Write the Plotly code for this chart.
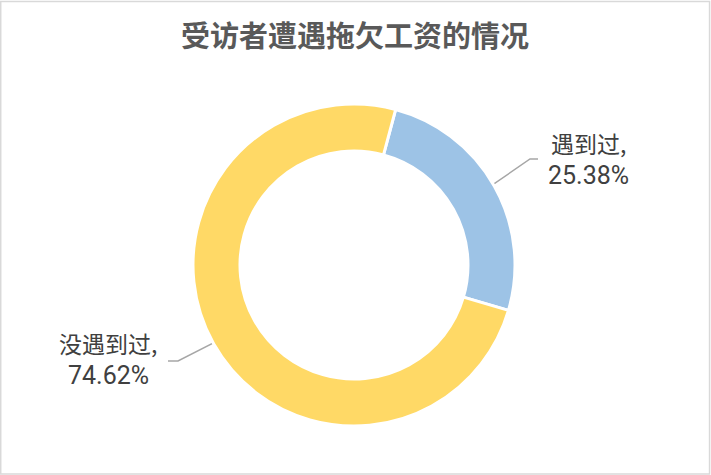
import math
import plotly.graph_objects as go

# ---- data ----
categories = ["遇到过", "没遇到过"]
values = [25.38, 74.62]
colors = ["#9DC3E6", "#FFD966"]
title_text = "受访者遭遇拖欠工资的情况"

# ---- layout constants (pixels) ----
W, H = 711, 475
cx, cy = 354, 265
r_out, r_in = 161, 114
rotation = 15
# leader-line elbow / end points and label centres
elbows = [(530, 159), (178, 361)]
ends = [(538, 159), (168, 361)]
label_pos = [(588, 143), (108, 343)]
line_gap = 32

fig = go.Figure()

fig.add_trace(go.Pie(
    labels=categories,
    values=values,
    sort=False,
    direction="clockwise",
    rotation=rotation,
    hole=r_in / r_out,
    marker=dict(colors=colors, line=dict(color="white", width=3)),
    textinfo="none",
    hoverinfo="none",
    showlegend=False,
    domain=dict(x=[(cx - r_out) / W, (cx + r_out) / W],
                y=[(H - cy - r_out) / H, (H - cy + r_out) / H]),
))

total = sum(values)
cum = 0.0
r_mid = (r_in + r_out) / 2
fonts = [dict(family="Noto Sans CJK SC", size=23, color="#404040"),
         dict(family="Roboto", size=25, color="#404040")]
for i, (cat, v) in enumerate(zip(categories, values)):
    mid = rotation + (cum + v / 2) / total * 360
    cum += v
    a = math.radians(mid)
    px = cx + r_mid * math.sin(a)
    py = cy - r_mid * math.cos(a)
    fig.add_trace(go.Scatter(
        x=[px, elbows[i][0], ends[i][0]],
        y=[py, elbows[i][1], ends[i][1]],
        mode="lines",
        line=dict(color="#A6A6A6", width=1.5),
        hoverinfo="skip",
        showlegend=False,
    ))
    for j, txt in enumerate([f"{cat},", f"{v:.2f}%"]):
        fig.add_annotation(
            x=label_pos[i][0], y=label_pos[i][1] + j * line_gap,
            xref="x", yref="y",
            text=txt, showarrow=False, align="center",
            xanchor="center", yanchor="middle",
            font=fonts[j],
        )

fig.add_annotation(
    x=355, y=34, xref="x", yref="y",
    text=f"<b>{title_text}</b>", showarrow=False,
    xanchor="center", yanchor="middle",
    font=dict(family="Noto Sans CJK SC", size=29, color="#595959"),
)

fig.add_shape(type="rect", xref="paper", yref="paper",
              x0=0.001, y0=0.002, x1=0.998, y1=0.997,
              line=dict(color="#D9D9D9", width=1.5))

fig.update_layout(
    width=W, height=H,
    margin=dict(l=0, r=0, t=0, b=0),
    paper_bgcolor="white", plot_bgcolor="rgba(0,0,0,0)",
    xaxis=dict(range=[0, W], visible=False, fixedrange=True),
    yaxis=dict(range=[H, 0], visible=False, fixedrange=True),
)

fig.write_html("out.html", config={"displayModeBar": False},
               post_script="document.body.style.margin='0';document.body.style.overflow='hidden';")
